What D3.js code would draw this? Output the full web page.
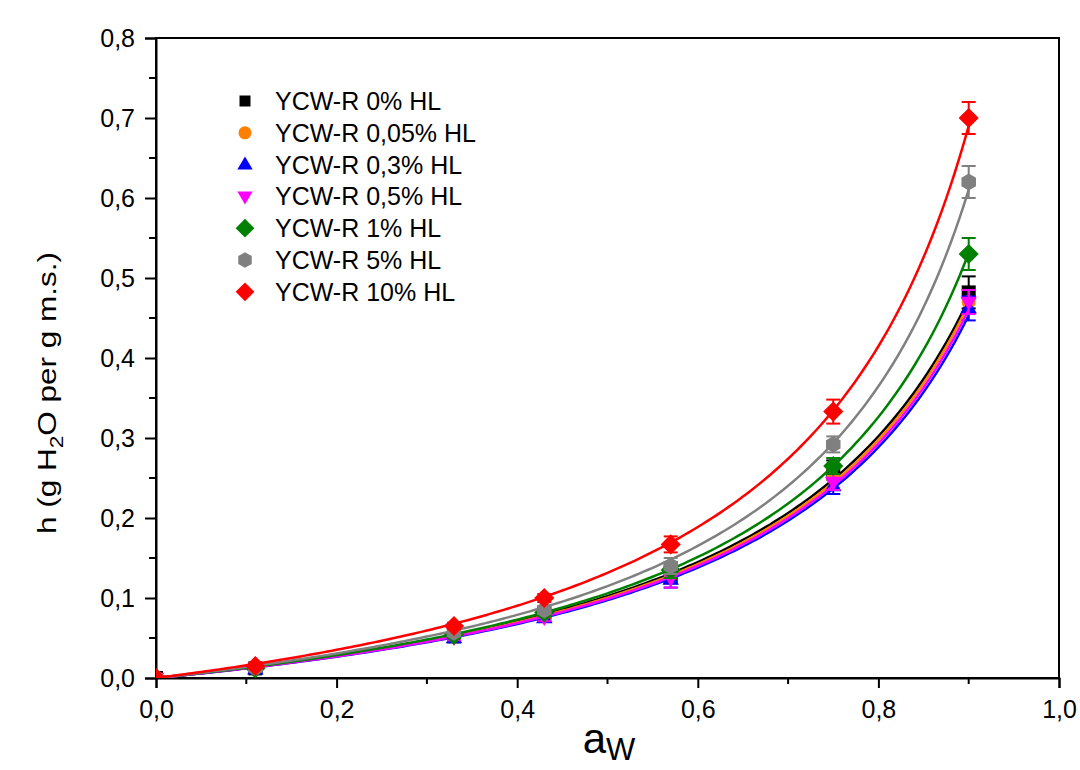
<!DOCTYPE html>
<html>
<head>
<meta charset="utf-8">
<script src="https://cdn.jsdelivr.net/npm/d3@7"></script>
<style>
  html, body { margin: 0; padding: 0; background: #ffffff; }
  svg { display: block; font-family: "Liberation Sans", Arial, sans-serif; }
</style>
</head>
<body>
<svg id="chart" width="1080" height="770"></svg>
<script>
// Water activity levels where sorption was measured
const aw = [0, 0.11, 0.33, 0.43, 0.57, 0.75, 0.9];

const seriesNames = [
  "YCW-R 0% HL", "YCW-R 0,05% HL", "YCW-R 0,3% HL", "YCW-R 0,5% HL",
  "YCW-R 1% HL", "YCW-R 5% HL", "YCW-R 10% HL"
];
const seriesColors = ["#000000", "#ff8000", "#0000ff", "#ff00ff", "#008000", "#808080", "#ff0000"];
const seriesSymbols = ["square", "circle", "triangle", "triangleDown", "diamond", "hexagon", "diamond"];

// Equilibrium moisture content h (g H2O per g m.s.)
const h0    = [0, 0.012, 0.052, 0.080, 0.130, 0.260, 0.482];
const h005  = [0, 0.012, 0.052, 0.078, 0.128, 0.250, 0.470];
const h03   = [0, 0.011, 0.050, 0.075, 0.123, 0.240, 0.462];
const h05   = [0, 0.011, 0.051, 0.076, 0.125, 0.245, 0.470];
const h1    = [0, 0.012, 0.054, 0.082, 0.135, 0.265, 0.530];
const h5    = [0, 0.013, 0.057, 0.085, 0.140, 0.292, 0.620];
const h10   = [0, 0.015, 0.065, 0.100, 0.167, 0.333, 0.700];
const hValues = [h0, h005, h03, h05, h1, h5, h10];

// Standard deviations
const e0   = [0, 0.003, 0.004, 0.005, 0.010, 0.012, 0.020];
const e005 = [0, 0.003, 0.004, 0.005, 0.010, 0.012, 0.015];
const e03  = [0, 0.003, 0.004, 0.005, 0.010, 0.010, 0.015];
const e05  = [0, 0.003, 0.004, 0.005, 0.012, 0.010, 0.015];
const e1   = [0, 0.003, 0.004, 0.005, 0.010, 0.010, 0.020];
const e5   = [0, 0.003, 0.004, 0.005, 0.010, 0.010, 0.020];
const e10  = [0, 0.003, 0.004, 0.005, 0.010, 0.015, 0.020];
const hErrors = [e0, e005, e03, e05, e1, e5, e10];

// GAB model fit parameters per series: h = Xm*C*K*aw / ((1-K*aw)(1-K*aw+C*K*aw))
const fitXm = [0.134, 0.131, 0.127, 0.129, 0.132, 0.139, 0.160];
const fitC  = [1.0, 1.0, 1.0, 1.0, 1.0, 1.0, 1.0];
const fitK  = [0.866, 0.868, 0.868, 0.868, 0.89, 0.905, 0.902];

const xTicks = [0, 0.2, 0.4, 0.6, 0.8, 1.0];
const yTicks = [0, 0.1, 0.2, 0.3, 0.4, 0.5, 0.6, 0.7, 0.8];

const svg = d3.select("#chart");
const mLeft = 156, mRight = 1059, mTop = 38, mBottom = 678;

const x = d3.scaleLinear().domain([0, 1]).range([mLeft, mRight]);
const y = d3.scaleLinear().domain([0, 0.8]).range([mBottom, mTop]);
const fmt = d => d3.format(".1f")(d).replace(".", ",");

svg.append("defs").append("clipPath").attr("id", "plotClip")
  .append("rect").attr("x", mLeft).attr("y", mTop)
  .attr("width", mRight - mLeft).attr("height", mBottom - mTop);

// Frame
svg.append("rect").attr("x", mLeft).attr("y", mTop)
  .attr("width", mRight - mLeft).attr("height", mBottom - mTop)
  .attr("fill", "none").attr("stroke", "#000").attr("stroke-width", 2);

// Axes
const xAxis = d3.axisBottom(x).tickValues(xTicks).tickFormat(fmt).tickSize(10).tickPadding(12);
const yAxis = d3.axisLeft(y).tickValues(yTicks).tickFormat(fmt).tickSize(11).tickPadding(10);

const gx = svg.append("g").attr("transform", `translate(0,${mBottom})`).call(xAxis);
const gy = svg.append("g").attr("transform", `translate(${mLeft},0)`).call(yAxis);
[gx, gy].forEach(g => {
  g.select(".domain").attr("stroke-width", 2);
  g.selectAll(".tick line").attr("stroke-width", 2);
  g.selectAll(".tick text").attr("font-size", 25).attr("fill", "#000")
    .attr("font-family", "'Liberation Sans', Arial, sans-serif");
});

// Minor ticks
const xMinor = d3.range(0.1, 1.0, 0.2);
const yMinor = d3.range(0.05, 0.8, 0.1);
svg.append("g").selectAll("line").data(xMinor).join("line")
  .attr("x1", d => x(d)).attr("x2", d => x(d))
  .attr("y1", mBottom).attr("y2", mBottom + 6)
  .attr("stroke", "#000").attr("stroke-width", 2);
svg.append("g").selectAll("line").data(yMinor).join("line")
  .attr("y1", d => y(d)).attr("y2", d => y(d))
  .attr("x1", mLeft).attr("x2", mLeft - 7)
  .attr("stroke", "#000").attr("stroke-width", 2);

// Axis titles
const xt = svg.append("text").attr("x", 609).attr("y", 753)
  .attr("text-anchor", "middle").attr("font-size", 42).attr("fill", "#000");
xt.append("tspan").text("a");
xt.append("tspan").attr("font-size", 31).attr("dy", 7).text("W");

const yt = svg.append("text")
  .attr("transform", `translate(56,393) rotate(-90)`)
  .attr("text-anchor", "middle").attr("font-size", 25).attr("fill", "#000")
  .attr("textLength", 282).attr("lengthAdjust", "spacingAndGlyphs");
yt.append("tspan").text("h (g H");
yt.append("tspan").attr("font-size", 18).attr("dy", 7).text("2");
yt.append("tspan").attr("dy", -7).text("O per g m.s.)");

// Marker shapes
function symbolPath(kind, s) {
  switch (kind) {
    case "square": return d3.symbol(d3.symbolSquare, s * s)();
    case "circle": return d3.symbol(d3.symbolCircle, Math.PI * (s / 2) * (s / 2))();
    case "triangle": {
      const r = s * 0.62;
      return `M0,${-r}L${r * 0.95},${r * 0.6}L${-r * 0.95},${r * 0.6}Z`;
    }
    case "triangleDown": {
      const r = s * 0.62;
      return `M0,${r}L${r * 0.95},${-r * 0.6}L${-r * 0.95},${-r * 0.6}Z`;
    }
    case "diamond": {
      const r = s * 0.72;
      return `M0,${-r}L${r},0L0,${r}L${-r},0Z`;
    }
    case "hexagon": {
      const r = s * 0.6;
      const pts = d3.range(6).map(i => {
        const a = Math.PI / 6 + i * Math.PI / 3;
        return [r * Math.cos(a), r * Math.sin(a)];
      });
      return "M" + pts.map(p => p.join(",")).join("L") + "Z";
    }
  }
}

const plot = svg.append("g").attr("clip-path", "url(#plotClip)");
const line = d3.line().x(d => x(d[0])).y(d => y(d[1]));
const grid = d3.range(0, 0.9001, 0.005);

seriesNames.forEach((name, i) => {
  const Xm = fitXm[i], C = fitC[i], K = fitK[i];
  const gab = a => Xm * C * K * a / ((1 - K * a) * (1 - K * a + C * K * a));
  const col = seriesColors[i];
  const g = plot.append("g");

  g.append("path").datum(grid.map(a => [a, gab(a)]))
    .attr("d", line).attr("fill", "none")
    .attr("stroke", col).attr("stroke-width", 2.5);

  const pts = aw.map((a, j) => ({ a, h: hValues[i][j], e: hErrors[i][j] }));
  const eb = g.append("g").selectAll("g").data(pts.filter(p => p.e > 0)).join("g")
    .attr("stroke", col).attr("stroke-width", 2);
  eb.append("line").attr("x1", d => x(d.a)).attr("x2", d => x(d.a))
    .attr("y1", d => y(d.h - d.e)).attr("y2", d => y(d.h + d.e));
  eb.append("line").attr("x1", d => x(d.a) - 7).attr("x2", d => x(d.a) + 7)
    .attr("y1", d => y(d.h + d.e)).attr("y2", d => y(d.h + d.e));
  eb.append("line").attr("x1", d => x(d.a) - 7).attr("x2", d => x(d.a) + 7)
    .attr("y1", d => y(d.h - d.e)).attr("y2", d => y(d.h - d.e));

  g.append("g").selectAll("path").data(pts).join("path")
    .attr("transform", d => `translate(${x(d.a)},${y(d.h)})`)
    .attr("d", symbolPath(seriesSymbols[i], 14))
    .attr("fill", col);
});

// Legend
const legend = svg.append("g");
seriesNames.forEach((name, i) => {
  const ly = 101 + i * 31.8;
  legend.append("path")
    .attr("transform", `translate(245,${ly})`)
    .attr("d", symbolPath(seriesSymbols[i], seriesSymbols[i] === "square" ? 11 : 13))
    .attr("fill", seriesColors[i]);
  legend.append("text").attr("x", 275).attr("y", ly + 9)
    .attr("font-size", 25).attr("fill", "#000").text(name);
});
</script>
</body>
</html>
